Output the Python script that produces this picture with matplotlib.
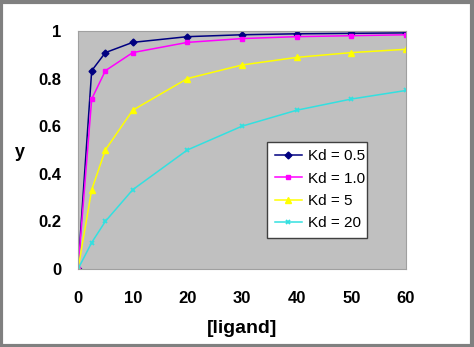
import matplotlib.pyplot as plt
from matplotlib.patches import Rectangle

# ligand concentration and fraction bound for each Kd
ligand = [0, 2.5, 5, 10, 20, 30, 40, 50, 60]
kd_05 = [0, 0.833, 0.909, 0.952, 0.976, 0.984, 0.988, 0.990, 0.992]
kd_1 = [0, 0.714, 0.833, 0.909, 0.952, 0.968, 0.976, 0.980, 0.984]
kd_5 = [0, 0.333, 0.500, 0.667, 0.800, 0.857, 0.889, 0.909, 0.923]
kd_20 = [0, 0.111, 0.200, 0.333, 0.500, 0.600, 0.667, 0.714, 0.750]

plt.rcParams['font.family'] = ['Liberation Sans', 'DejaVu Sans']

fig = plt.figure(figsize=(4.74, 3.47), dpi=100)
ax = fig.add_axes([0.1646, 0.2248, 0.692, 0.686])
ax.set_facecolor('#c0c0c0')

ax.plot(ligand, kd_05, color='#000080', marker='D', markersize=3.5, lw=1.1, label='Kd = 0.5')
ax.plot(ligand, kd_1, color='#ff00ff', marker='s', markersize=3.5, lw=1.1, label='Kd = 1.0')
ax.plot(ligand, kd_5, color='#ffff00', marker='^', markersize=4.5, lw=1.1, label='Kd = 5')
ax.plot(ligand, kd_20, color='#33e0e0', marker='x', markersize=3.5, mew=1.3, lw=1.1, label='Kd = 20')

ax.set_xlim(0, 60)
ax.set_ylim(0, 1)
ax.set_xticks([0, 10, 20, 30, 40, 50, 60])
ax.set_yticks([0, 0.2, 0.4, 0.6, 0.8, 1])
ax.set_yticklabels(['0', '0.2', '0.4', '0.6', '0.8', '1'])
ax.tick_params(length=0, labelsize=12)
ax.tick_params(axis='x', pad=16)
ax.tick_params(axis='y', pad=12)
for lab in ax.get_xticklabels() + ax.get_yticklabels():
    lab.set_fontweight('bold')
for s in ax.spines.values():
    s.set_color('#a0a0a0')
    s.set_linewidth(0.8)

ax.set_xlabel('[ligand]', fontsize=14, fontweight='bold', labelpad=10)
fig.text(0.042, 0.56, 'y', fontsize=13, fontweight='bold', ha='center', va='center')

leg = ax.legend(loc='lower left', bbox_to_anchor=(0.576, 0.13, 0.305, 0.4), mode='expand',
                fontsize=11, frameon=True, fancybox=False, shadow=False,
                borderaxespad=0, handlelength=1.8, handletextpad=0.4,
                labelspacing=0.55, borderpad=0.5)
leg.get_frame().set_edgecolor('#404040')
leg.get_frame().set_linewidth(1.0)
leg.get_frame().set_facecolor('white')
leg.get_frame().set_alpha(1)

# outer frame around the figure
fig.patches.append(Rectangle((0.002, 0.003), 0.994, 0.992, transform=fig.transFigure,
                             fill=False, edgecolor='#808080', lw=3))

fig.savefig('out.png', dpi=100)
